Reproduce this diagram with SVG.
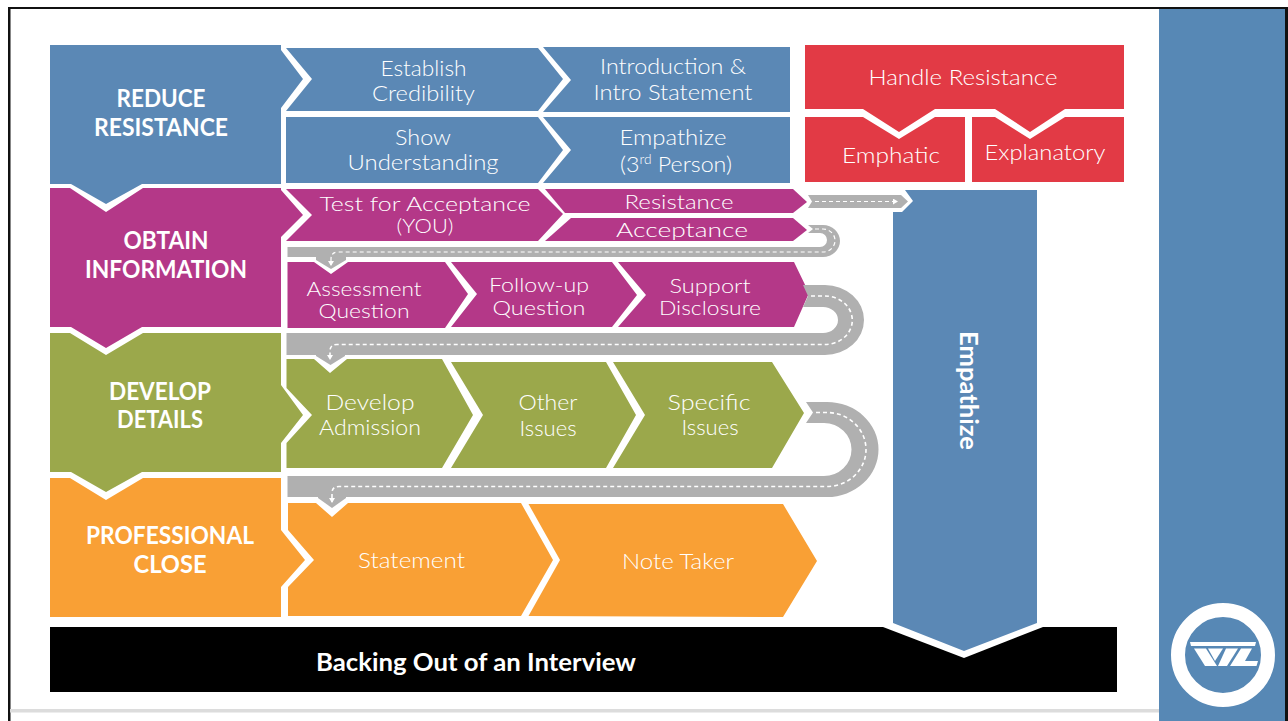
<svg xmlns="http://www.w3.org/2000/svg" width="1288" height="721" viewBox="0 0 1288 721">
<style>
.blue{fill:#5b88b5}.pur{fill:#b43888}.grn{fill:#9ba84b}.org{fill:#f9a035}.red{fill:#e23a45}
text{fill:#fff;text-anchor:middle;font-family:"Lato","Liberation Sans",sans-serif}
.h{font-size:24px;font-weight:700}
.t{font-size:22px;font-weight:300}
.s{font-size:20px;font-weight:300}
.road{fill:#b0b0b0}
.dash{fill:none;stroke:#fff;stroke-width:1.6;stroke-dasharray:4 3}
.thin{stroke-width:1.2}
.head{fill:#b0b0b0}
</style>
<defs>
<marker id="ah" markerWidth="6" markerHeight="6" refX="4" refY="3" orient="auto" markerUnits="userSpaceOnUse"><path d="M0,0L5,3L0,6z" fill="#fff"/></marker>
</defs>
<rect width="1288" height="721" fill="#fff"/>
<g id="frame">
<rect x="8" y="7" width="1280" height="2" fill="#111"/>
<rect x="8" y="7" width="2.500" height="714" fill="#111"/>
<rect x="10" y="709" width="1150" height="3.500" fill="#dcdcdc"/>
<rect x="1159" y="9" width="126" height="712" fill="#5788b5"/>
<rect x="1285" y="7" width="3" height="714" fill="#111"/>
</g>
<g id="logo">
<circle cx="1223" cy="655" r="45" fill="#5788b5" stroke="#fff" stroke-width="14"/>
<path d="M1190,642H1256L1255,646H1191z" fill="#fff"/>
<path d="M1194,648.500H1206L1217,666H1205z" fill="#fff"/>
<path d="M1208,648.500H1223L1215,661z" fill="#fff"/>
<path d="M1226,648.500H1238L1227,666H1218z" fill="#fff"/>
<path d="M1241,648.500H1252L1245,661H1258L1256.500,666H1230z" fill="#fff"/>
</g>
<g id="backing-out">
<rect x="50" y="627" width="1067" height="65" fill="#000"/>
<polygon points="883,627 964,658 1043,627" fill="#fff"/>
<text class="h" x="476" y="670.500" textLength="320" lengthAdjust="spacingAndGlyphs">Backing Out of an Interview</text>
</g>
<g id="reduce-resistance">
<polygon class="blue" points="50,45 281,45 281,50 303,79 281,108 281,184 142,184 106,204 71,184 50,184"/>
<text class="h" x="161" y="107" textLength="89" lengthAdjust="spacingAndGlyphs">REDUCE</text><text class="h" x="161" y="136" textLength="134" lengthAdjust="spacingAndGlyphs">RESISTANCE</text>
</g>
<g id="establish-credibility">
<polygon class="blue" points="286,48 538,48 563,79 538,111 286,111 312,79"/>
<text class="t" x="423.500" y="76" textLength="86" lengthAdjust="spacingAndGlyphs">Establish</text><text class="t" x="423.500" y="101" textLength="103" lengthAdjust="spacingAndGlyphs">Credibility</text>
</g>
<g id="introduction">
<polygon class="blue" points="543,47 790,47 790,112 543,112 571,80"/>
<text class="t" x="673" y="74" textLength="146" lengthAdjust="spacingAndGlyphs">Introduction &amp;</text><text class="t" x="673" y="100" textLength="159" lengthAdjust="spacingAndGlyphs">Intro Statement</text>
</g>
<g id="show-understanding">
<polygon class="blue" points="286,117 538,117 563,150 538,183 286,183"/>
<text class="t" x="423" y="145" textLength="56" lengthAdjust="spacingAndGlyphs">Show</text><text class="t" x="423" y="170" textLength="151" lengthAdjust="spacingAndGlyphs">Understanding</text>
</g>
<g id="empathize-3rd">
<polygon class="blue" points="543,117 790,117 790,183 543,183 571,150"/>
<text class="t" x="673" y="145" textLength="107" lengthAdjust="spacingAndGlyphs">Empathize</text><text class="t" x="676" y="172" textLength="112" lengthAdjust="spacingAndGlyphs">(3<tspan font-size="13" dy="-8">rd</tspan><tspan dy="8"> Person)</tspan></text>
</g>
<g id="handle-resistance">
<polygon class="red" points="805,45 1124,45 1124,109 1065,109 1030,132 995,109 935,109 899,132 863,109 805,109"/>
<text class="t" x="963" y="85" textLength="189" lengthAdjust="spacingAndGlyphs">Handle Resistance</text>
</g>
<g id="emphatic">
<polygon class="red" points="805,117 863,117 899,139 935,117 965,117 965,182 805,182"/>
<text class="t" x="891" y="163" textLength="98" lengthAdjust="spacingAndGlyphs">Emphatic</text>
</g>
<g id="explanatory">
<polygon class="red" points="972,117 995,117 1030,139 1065,117 1124,117 1124,182 972,182"/>
<text class="t" x="1045" y="160" textLength="121" lengthAdjust="spacingAndGlyphs">Explanatory</text>
</g>
<g id="obtain-information">
<polygon class="pur" points="50,188 70,188 106,212 143,188 281,188 281,190 303,215 281,237 281,327 142,327 106,348 71,327 50,327"/>
<text class="h" x="166" y="249" textLength="85" lengthAdjust="spacingAndGlyphs">OBTAIN</text><text class="h" x="166" y="278" textLength="162" lengthAdjust="spacingAndGlyphs">INFORMATION</text>
</g>
<g id="test-for-acceptance">
<polygon class="pur" points="286,189 538,189 563,214 538,241 286,241 312,215"/>
<text class="s" x="425" y="211" textLength="211" lengthAdjust="spacingAndGlyphs">Test for Acceptance</text><text class="s" x="425" y="233" textLength="57" lengthAdjust="spacingAndGlyphs">(YOU)</text>
</g>
<g id="resistance">
<polygon class="pur" points="545,189 793,189 807,202 793,213 565,213"/>
<text class="s" x="679" y="209" textLength="109" lengthAdjust="spacingAndGlyphs">Resistance</text>
</g>
<g id="acceptance">
<polygon class="pur" points="571,218 793,218 807,230 793,241 545,241"/>
<text class="s" x="682" y="237" textLength="132" lengthAdjust="spacingAndGlyphs">Acceptance</text>
</g>
<g id="assessment-question">
<polygon class="pur" points="287.500,262 314,262 331,274 348,262 445,262 468,294 445,328 287.500,328"/>
<text class="s" x="364" y="295.500" textLength="115" lengthAdjust="spacingAndGlyphs">Assessment</text><text class="s" x="364" y="317.500" textLength="91" lengthAdjust="spacingAndGlyphs">Question</text>
</g>
<g id="follow-up-question">
<polygon class="pur" points="451,262 612,262 637,295 612,327 451,327 477,294"/>
<text class="s" x="539" y="292" textLength="100" lengthAdjust="spacingAndGlyphs">Follow-up</text><text class="s" x="539" y="314.500" textLength="93" lengthAdjust="spacingAndGlyphs">Question</text>
</g>
<g id="support-disclosure">
<polygon class="pur" points="618,262 794,262 809,293 794,327 618,327 646,295"/>
<text class="s" x="710" y="293" textLength="81" lengthAdjust="spacingAndGlyphs">Support</text><text class="s" x="710" y="315" textLength="102" lengthAdjust="spacingAndGlyphs">Disclosure</text>
</g>
<g id="develop-details">
<polygon class="grn" points="50,333 70,333 106,355 143,333 281,333 281,385 303,415 281,443 281,472 142,472 106,492 71,472 50,472"/>
<text class="h" x="160" y="399.500" textLength="102" lengthAdjust="spacingAndGlyphs">DEVELOP</text><text class="h" x="160" y="428" textLength="86" lengthAdjust="spacingAndGlyphs">DETAILS</text>
</g>
<g id="develop-admission">
<polygon class="grn" points="286.500,359 314,359 330,373 347,359 442,359 473,415 442,468 286.500,468 286.500,443 312,415 286.500,388"/>
<text class="t" x="370" y="410" textLength="89" lengthAdjust="spacingAndGlyphs">Develop</text><text class="t" x="370" y="435" textLength="102" lengthAdjust="spacingAndGlyphs">Admission</text>
</g>
<g id="other-issues">
<polygon class="grn" points="451,362 606,362 636,415 606,468 451,468 483,415"/>
<text class="t" x="548" y="410" textLength="59" lengthAdjust="spacingAndGlyphs">Other</text><text class="t" x="548" y="436" textLength="57" lengthAdjust="spacingAndGlyphs">Issues</text>
</g>
<g id="specific-issues">
<polygon class="grn" points="613,362 772,362 804,413 772,468 613,468 645,415"/>
<text class="t" x="709" y="410" textLength="83" lengthAdjust="spacingAndGlyphs">Specific</text><text class="t" x="710" y="435" textLength="57" lengthAdjust="spacingAndGlyphs">Issues</text>
</g>
<g id="professional-close">
<polygon class="org" points="50,478 70,478 106,500 143,478 281,478 281,530 305,560 281,587 281,617 50,617"/>
<text class="h" x="170" y="543.500" textLength="168" lengthAdjust="spacingAndGlyphs">PROFESSIONAL</text><text class="h" x="170" y="572.500" textLength="73" lengthAdjust="spacingAndGlyphs">CLOSE</text>
</g>
<g id="statement">
<polygon class="org" points="288,503 316,503 332,517 348,503 521,503 553,560 521,616 288,616 288,587 314,560 288,530"/>
<text class="t" x="411.500" y="568" textLength="107" lengthAdjust="spacingAndGlyphs">Statement</text>
</g>
<g id="note-taker">
<polygon class="org" points="528.500,504 783,504 817,561 783,617 528.500,616 560,560"/>
<text class="t" x="678" y="569" textLength="112" lengthAdjust="spacingAndGlyphs">Note Taker</text>
</g>
<g id="empathize">
<polygon class="blue" points="905,190 1037,190 1037,623 964,651 893,623 893,212 902,212 913,201"/>
<text class="h" transform="translate(960,390.500) rotate(90)" textLength="119" lengthAdjust="spacingAndGlyphs" style="font-size:25px">Empathize</text>
</g>
<g id="connectors">
<polygon class="head" points="808,195 901,195 908,201.500 901,208 808,208 812,201.500"/>
<path class="dash thin" d="M815,201.500H897" marker-end="url(#ah)"/>
<path class="road" d="M808,225H823A17,16 0 0 1 823,257H287.500V247H820A7,7 0 0 0 820,233H808L813,229z"/>
<polygon class="head" points="316,256 346,256 346,260 331,269 316,260"/>
<path class="dash thin" d="M815,229H823A12,11.500 0 0 1 823,252H338Q331,252 331,259V265" marker-end="url(#ah)"/>
<path class="road" d="M803,285H825A39,35 0 0 1 825,355H286.500V333H823A15,13 0 0 0 823,307H803L808,296z"/>
<polygon class="head" points="316,354 345,354 345,356 330.500,365 316,356"/>
<path class="dash" d="M811,296H825A27,24 0 0 1 825,344.500H337Q330,344.500 330,351V359" marker-end="url(#ah)"/>
<path class="road" d="M806,402H827A51.500,47.500 0 0 1 827,497H287.500V476H824A27.500,26.500 0 0 0 824,423H806L813,412.500z"/>
<polygon class="head" points="318,496 346,496 346,498 332,508 318,498"/>
<path class="dash" d="M816,412.500H827A39,37 0 0 1 827,486.500H339Q332,486.500 332,493V502" marker-end="url(#ah)"/>
</g>
</svg>
